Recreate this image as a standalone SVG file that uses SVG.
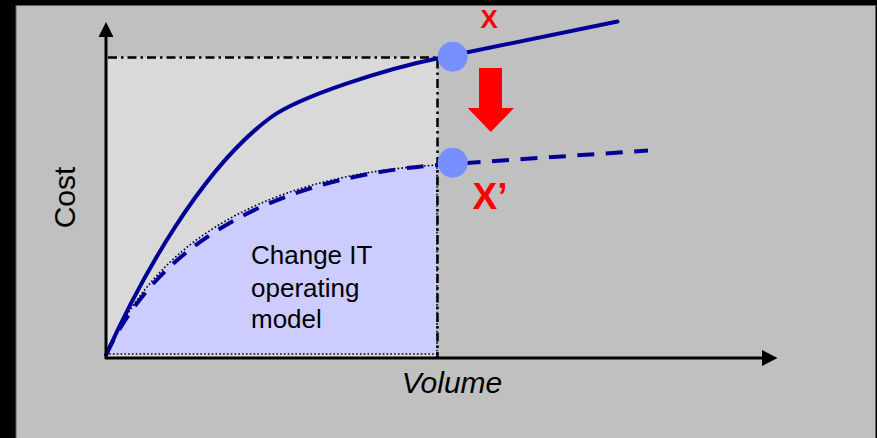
<svg xmlns="http://www.w3.org/2000/svg" width="877" height="438" viewBox="0 0 877 438">
<style>
.lbl{font-family:"Liberation Sans",Arial,sans-serif;fill:#000}
.red{font-family:"Liberation Sans",Arial,sans-serif;font-weight:bold;fill:#ff0000}
.axis{stroke:#000;stroke-width:3;fill:none}
.dashdot{stroke:#000;stroke-width:2.5;fill:none;stroke-dasharray:9 4 2.5 4}
.dots{stroke:#000;stroke-width:1.6;stroke-dasharray:1.6 2.2}
.solid{stroke:#000099;stroke-width:4;fill:none;stroke-linecap:round}
.dashed{stroke:#000099;stroke-width:4;fill:none;stroke-dasharray:17 11.5}
.pt{fill:#7890ff}
</style>
<rect x="0" y="0" width="877" height="438" fill="#000"/>
<rect id="background" x="16" y="5.5" width="859.5" height="440" fill="#c0c0c0" stroke="#606060" stroke-width="1"/>

<g id="baseline-area">
<rect x="107" y="57" width="330.5" height="300" fill="#d9d9d9"/>
</g>
<g id="reduced-area">
<path d="M106,356 C148,255 245,177 437,165 L437,354 L106,354 Z" fill="#ccccff" class="dots"/>
</g>

<g id="connectors">
<path class="dashdot" d="M108,57.5 H437.5 V357"/>
<path class="dashed" d="M106,355 C150,260 250,180 437,165 L648,150.5"/>
<path class="solid" d="M106,355 C140,280 200,170 270,118 C300,95.7 390,68 437,58.5 L617.5,21.5"/>
<path class="axis" d="M106,359 V36"/>
<polygon points="98.5,37 113.5,37 106,22" fill="#000"/>
<path class="axis" d="M105,358 H763"/>
<polygon points="762,350 762,366 777.5,358" fill="#000"/>
<polygon points="479,68 502,68 502,108 514,108 490.8,132 467.7,108 479,108" fill="#ff0000"/>
</g>

<g id="point-x">
<circle class="pt" cx="452.7" cy="56.7" r="15"/>
<text class="red" x="480.5" y="28.3" font-size="26">X</text>
</g>
<g id="point-x-prime">
<circle class="pt" cx="452.7" cy="162.7" r="15"/>
<text class="red" x="472.5" y="209.3" font-size="37">X’</text>
</g>

<g id="label-cost">
<text class="lbl" font-size="30" text-anchor="middle" transform="translate(75,197.5) rotate(-90)">Cost</text>
</g>
<g id="label-volume">
<text class="lbl" font-size="30" font-style="italic" x="452" y="393.3" text-anchor="middle">Volume</text>
</g>
<g id="label-change">
<text class="lbl" font-size="26"><tspan x="251" y="264.3">Change IT</tspan><tspan x="251" y="296.5">operating</tspan><tspan x="251" y="328.3">model</tspan></text>
</g>
</svg>
